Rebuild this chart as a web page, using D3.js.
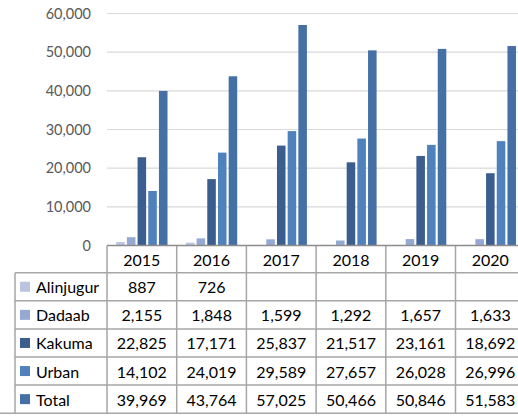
<!DOCTYPE html>
<html><head><meta charset="utf-8">
<script src="https://cdn.jsdelivr.net/npm/d3@7"></script>
<style>html,body{margin:0;padding:0;background:#fff;overflow:hidden}</style>
</head><body>
<svg id="c" width="518" height="417"></svg>
<script>
const years = ["2015","2016","2017","2018","2019","2020"];
const seriesNames = ["Alinjugur","Dadaab","Kakuma","Urban","Total"];
const alinjugur = [887, 726, null, null, null, null];
const dadaab = [2155, 1848, 1599, 1292, 1657, 1633];
const kakuma = [22825, 17171, 25837, 21517, 23161, 18692];
const urban = [14102, 24019, 29589, 27657, 26028, 26996];
const total = [39969, 43764, 57025, 50466, 50846, 51583];
const yTicks = [0, 10000, 20000, 30000, 40000, 50000, 60000];
const colors = ["#b9c5e0", "#95a9d3", "#3b5e8f", "#4f81bd", "#4470a6"];

const series = [alinjugur, dadaab, kakuma, urban, total];
const svg = d3.select("#c");
const font = "Lato, 'Open Sans', sans-serif";

const plotLeft = 107, catStep = 69.7;
const x = d3.scaleBand().domain(years).range([plotLeft, plotLeft + catStep * years.length]).padding(0);
const xi = d3.scaleBand().domain(seriesNames).range([0, x.bandwidth()]).paddingInner(0.2).paddingOuter(0.86);
const y = d3.scaleLinear().domain([0, 60000]).range([245.5, 13.5]);
const fmt = d3.format(",");

// gridlines
svg.append("g").selectAll("line").data(yTicks.slice(1)).join("line")
  .attr("x1", plotLeft).attr("x2", 518)
  .attr("y1", d => y(d)).attr("y2", d => y(d))
  .attr("stroke", "#d9d9d9").attr("stroke-width", 1.2);

// y axis labels
const yAxis = d3.axisLeft(y).tickValues(yTicks).tickFormat(d => fmt(d)).tickSize(0).tickPadding(16);
const ga = svg.append("g").attr("transform", `translate(${plotLeft},0)`).call(yAxis);
ga.select(".domain").remove();
ga.selectAll("text").attr("font-family", font).attr("font-size", 14.5).attr("fill", "#595959");

// bars
series.forEach((vals, si) => {
  svg.append("g").selectAll("rect").data(vals.map((v, i) => ({v, yr: years[i]})).filter(d => d.v != null)).join("rect")
    .attr("x", d => x(d.yr) + xi(seriesNames[si]))
    .attr("width", xi.bandwidth())
    .attr("y", d => y(d.v))
    .attr("height", d => y(0) - y(d.v))
    .attr("fill", colors[si]);
});

// data table
const rowTop = 245.5, headH = 27.2, rowH = 28.1, legLeft = 15;
const tableBottom = rowTop + headH + rowH * seriesNames.length;
const lineColor = "#a6a6a6";
const tg = svg.append("g");
// header horizontal line under header (full data width from legend)
for (let r = 0; r <= seriesNames.length; r++) {
  const yy = rowTop + headH + r * rowH;
  tg.append("line").attr("x1", r === seriesNames.length ? 0 : legLeft).attr("x2", 518)
    .attr("y1", yy).attr("y2", yy).attr("stroke", lineColor).attr("stroke-width", 1.5);
}
// vertical lines
years.forEach(yr => {
  tg.append("line").attr("x1", x(yr)).attr("x2", x(yr)).attr("y1", rowTop).attr("y2", tableBottom)
    .attr("stroke", lineColor).attr("stroke-width", 1.5);
});
tg.append("line").attr("x1", legLeft).attr("x2", legLeft).attr("y1", rowTop + headH).attr("y2", tableBottom)
  .attr("stroke", lineColor).attr("stroke-width", 1.5);
// axis baseline
svg.append("line").attr("x1", plotLeft).attr("x2", 518).attr("y1", y(0)).attr("y2", y(0))
  .attr("stroke", "#8c8c8c").attr("stroke-width", 1.5);

// header texts
tg.selectAll("text.h").data(years).join("text").attr("class", "h")
  .attr("x", d => x(d) + x.bandwidth() / 2).attr("y", rowTop + headH / 2)
  .attr("text-anchor", "middle").attr("dominant-baseline", "central")
  .attr("font-family", font).attr("font-size", 16).attr("fill", "#000").text(d => d);

// rows
seriesNames.forEach((name, si) => {
  const cy = rowTop + headH + si * rowH + rowH / 2;
  tg.append("rect").attr("x", 20).attr("y", cy - 5).attr("width", 10).attr("height", 10).attr("fill", colors[si]);
  tg.append("text").attr("x", 36).attr("y", cy).attr("dominant-baseline", "central")
    .attr("font-family", font).attr("font-size", 16).attr("fill", "#000").text(name);
  series[si].forEach((v, i) => {
    if (v == null) return;
    tg.append("text").attr("x", x(years[i]) + x.bandwidth() / 2).attr("y", cy)
      .attr("text-anchor", "middle").attr("dominant-baseline", "central")
      .attr("font-family", font).attr("font-size", 16).attr("fill", "#000").text(fmt(v));
  });
});
</script>
</body></html>
